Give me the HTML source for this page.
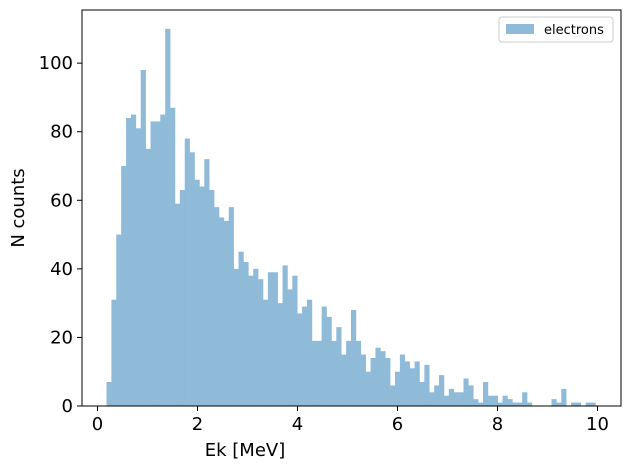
<!DOCTYPE html>
<html><head><meta charset="utf-8"><style>
body{margin:0;background:#fff;}
svg text{font-family:"DejaVu Sans","Liberation Sans",sans-serif;fill:#000;}
</style></head><body>
<svg id="chart" width="630" height="470" viewBox="0 0 630 470" xmlns="http://www.w3.org/2000/svg">
<g id="bars"></g>
<g id="axes"></g>
<g>
<rect x="499" y="17" width="114" height="25" rx="3" fill="#fff" stroke="#ccc" stroke-width="1"/>
<rect x="506" y="24" width="28" height="10" fill="#8fbbd9"/>
<text x="544" y="34" font-size="13">electrons</text>
</g>
<text x="245" y="456" font-size="18" text-anchor="middle">Ek [MeV]</text>
<text transform="translate(24,208) rotate(-90)" font-size="18" text-anchor="middle">N counts</text>
</svg>
<script>
const counts=[7,31,50,70,84,85,81,98,75,83,83,85,110,87,59,63,78,74,66,64,72,63,58,55,54,58,40,45,42,38,40,37,31,39,39,30,41,34,38,27,29,31,19,19,29,26,19,23,15,19,28,19,15,10,14,17,16,14,6,10,15,13,11,13,7,12,4,6,9,3,5,4,4,8,6,2,1,7,3,3,1,3,2,1,1,4,1,0,0,0,0,2,1,5,0,1,1,0,1,1];
const binStart=[0.18];
const binWidth=[0.0978];
const xTicks=[0,2,4,6,8,10];
const yTicks=[0,20,40,60,80,100];
const X0=82,X1=621,Y0=406,Y1=10;
const xmin=-0.31,xmax=10.47,ymin=0,ymax=115.5;
const xs=v=>X0+(v-xmin)/(xmax-xmin)*(X1-X0);
const ys=v=>Y0-(v-ymin)/(ymax-ymin)*(Y0-Y1);
const NS="http://www.w3.org/2000/svg";
const bars=document.getElementById('bars');
counts.forEach((c,i)=>{
  const a=binStart[0]+i*binWidth[0], b=a+binWidth[0];
  if(c<=0) return;
  const r=document.createElementNS(NS,'rect');
  r.setAttribute('x',xs(a));r.setAttribute('width',xs(b)-xs(a)+0.3);
  r.setAttribute('y',ys(c));r.setAttribute('height',ys(0)-ys(c));
  r.setAttribute('fill','#8fbbd9');
  
  
  bars.appendChild(r);
});
const ax=document.getElementById('axes');
let h=`<rect x="${X0}" y="${Y1}" width="${X1-X0}" height="${Y0-Y1}" fill="none" stroke="#000" stroke-width="1"/>`;
xTicks.forEach(t=>{const x=xs(t);h+=`<line x1="${x}" x2="${x}" y1="${Y0}" y2="${Y0+5}" stroke="#000"/><text x="${x}" y="${Y0+24}" font-size="18" text-anchor="middle">${t}</text>`;});
yTicks.forEach(t=>{const y=ys(t);h+=`<line x1="${X0-5}" x2="${X0}" y1="${y}" y2="${y}" stroke="#000"/><text x="${X0-9}" y="${y+6}" font-size="18" text-anchor="end">${t}</text>`;});
ax.innerHTML=h;
ax.querySelectorAll('*').forEach(e=>{
  
  
});
</script>
</body></html>
